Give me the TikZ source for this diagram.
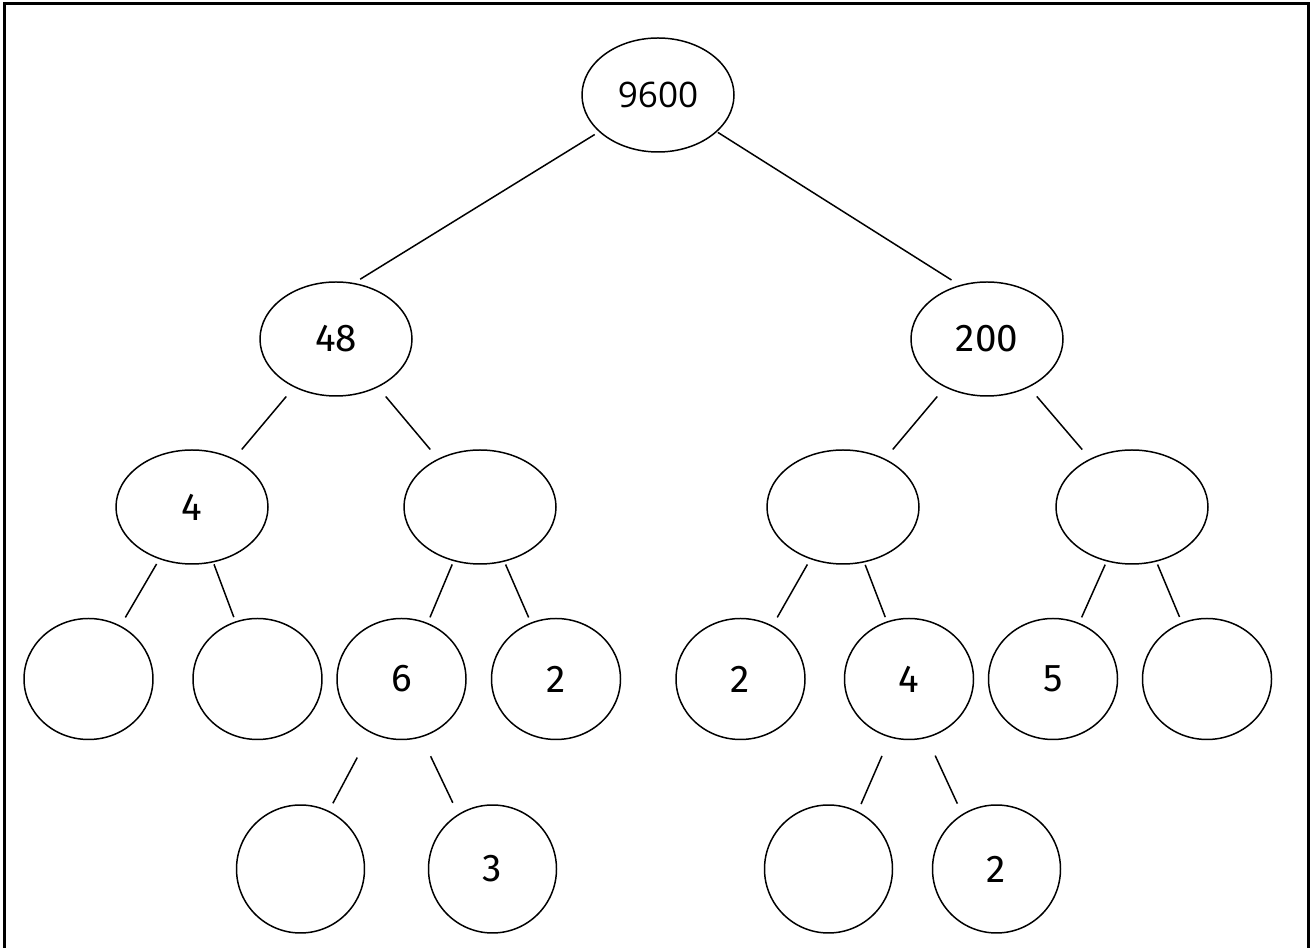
\documentclass[tikz,border=0pt]{standalone}
\usepackage{fontspec}
\setmainfont{Fira Sans}
\newfontfamily\rootfont{Open Sans}
\usetikzlibrary{shapes.geometric}
\tikzset{oval/.style = {ellipse, draw=black, line width=0.85pt, inner sep=0pt,
                        minimum width=3.04cm, minimum height=2.28cm,
                        font=\fontsize{22}{24}\selectfont}}
\tikzset{ring/.style = {oval, minimum width=2.58cm, minimum height=2.42cm}}
\tikzset{bud/.style  = {oval, minimum width=2.56cm, minimum height=2.56cm}}

\begin{document}
\begin{tikzpicture}[every node/.style = oval, line width=0.85pt]
            \useasboundingbox (0,0) rectangle (26.2,18.96);
            \draw [line width=1.4pt] (0.09,0) -- (0.09,18.886) -- (26.174,18.886) -- (26.174,0);

            \node [font=\rootfont\fontsize{20}{22}\selectfont] (t) at (13.16, 17.06) {9600};

            \node (t0)   at ( 6.72, 12.18) {48};
            \node (t1)   at (19.74, 12.18) {200};

            \node (t00)  at ( 3.84,  8.82) {4};
            \node (t01)  at ( 9.60,  8.82) {};
            \node (t10)  at (16.86,  8.82) {};
            \node (t11)  at (22.64,  8.82) {};

            \node [ring] (t000) at ( 1.77, 5.38) {};
            \node [ring] (t001) at ( 5.15, 5.38) {};
            \node [ring] (t010) at ( 8.03, 5.38) {6};
            \node [ring] (t011) at (11.12, 5.38) {2};
            \node [ring] (t100) at (14.81, 5.38) {2};
            \node [ring] (t101) at (18.18, 5.38) {4};
            \node [ring] (t110) at (21.06, 5.38) {5};
            \node [ring] (t111) at (24.14, 5.38) {};

            \node [bud] (t0100) at ( 6.01, 1.58) {};
            \node [bud] (t0101) at ( 9.85, 1.58) {3};
            \node [bud] (t1010) at (16.57, 1.58) {};
            \node [bud] (t1011) at (19.93, 1.58) {2};

            \draw [shorten <=0.10cm, shorten >=0.14cm] (t.212) -- (t0.72);
            \draw [shorten <=0.02cm, shorten >=0.19cm] (t.328) -- (t1.117);

            \draw [shorten <=0.24cm, shorten >=0.24cm] (t0.229) -- (t00.49);
            \draw [shorten <=0.24cm, shorten >=0.24cm] (t0.311) -- (t01.131);
            \draw [shorten <=0.24cm, shorten >=0.24cm] (t1.229) -- (t10.49);
            \draw [shorten <=0.24cm, shorten >=0.24cm] (t1.311) -- (t11.131);

            \draw [shorten <=0.11cm, shorten >=0.19cm] (t00.238) -- (t000.59);
            \draw [shorten <=0.04cm, shorten >=0.09cm] (t00.291) -- (t001.111);
            \draw [shorten <=0.07cm, shorten >=0.12cm] (t01.244) -- (t010.65);
            \draw [shorten <=0.06cm, shorten >=0.11cm] (t01.294) -- (t011.114);
            \draw [shorten <=0.12cm, shorten >=0.19cm] (t10.238) -- (t100.59);
            \draw [shorten <=0.05cm, shorten >=0.09cm] (t10.291) -- (t101.111);
            \draw [shorten <=0.07cm, shorten >=0.12cm] (t11.245) -- (t110.65);
            \draw [shorten <=0.06cm, shorten >=0.12cm] (t11.294) -- (t111.114);

            \draw [shorten <=0.56cm, shorten >=0.17cm] (t010.240) -- (t0100.64);
            \draw [shorten <=0.42cm, shorten >=0.25cm] (t010.289) -- (t0101.122);
            \draw [shorten <=0.40cm, shorten >=0.16cm] (t101.252) -- (t1010.63);
            \draw [shorten <=0.39cm, shorten >=0.23cm] (t101.287) -- (t1011.122);
        \end{tikzpicture}
\end{document}
